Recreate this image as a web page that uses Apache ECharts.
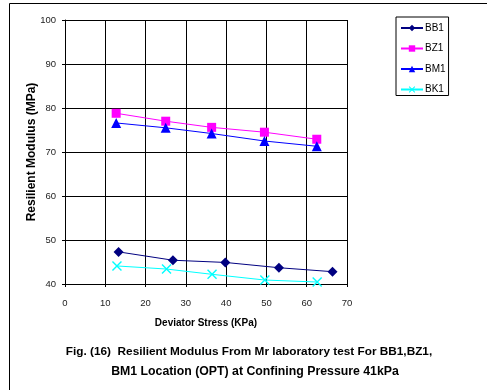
<!DOCTYPE html>
<html><head><meta charset="utf-8">
<script src="https://cdn.jsdelivr.net/npm/echarts@6/dist/echarts.min.js"></script>
<style>html,body{margin:0;padding:0;background:#fff}#c{width:487px;height:390px}</style>
</head><body><div id="c"></div>
<script>
var seriesNames = ['BB1', 'BZ1', 'BM1', 'BK1'];
var bb1X = [13.3, 26.8, 39.8, 53.1, 66.4];
var bb1Y = [47.3, 45.4, 44.9, 43.7, 42.8];
var bz1X = [12.7, 25.0, 36.4, 49.5, 62.5];
var bz1Y = [78.8, 77.0, 75.6, 74.5, 72.9];
var bm1X = [12.7, 25.0, 36.4, 49.5, 62.5];
var bm1Y = [76.6, 75.5, 74.2, 72.5, 71.3];
var bk1X = [12.9, 25.2, 36.5, 49.6, 62.6];
var bk1Y = [44.1, 43.4, 42.2, 40.9, 40.45];
var xTicks = [0, 10, 20, 30, 40, 50, 60, 70];
var yTicks = [40, 50, 60, 70, 80, 90, 100];

function pairs(xs, ys) { return xs.map(function (x, i) { return [x, ys[i]]; }); }
var xMark = 'path://M0,1 L1,0 L5,4 L9,0 L10,1 L6,5 L10,9 L9,10 L5,6 L1,10 L0,9 L4,5 Z';
var font = 'Liberation Sans, Arial, sans-serif';
var capFont1 = 'bold 11.8px "Liberation Sans Narrow", "Arial Narrow", sans-serif';
var capFont2 = 'bold 12.3px "Liberation Sans Narrow", "Arial Narrow", sans-serif';

var chart = echarts.init(document.getElementById('c'));
chart.setOption({
  animation: false,
  graphic: [
    { type: 'rect', shape: { x: 9.5, y: 3.5, width: 520, height: 420 }, style: { fill: 'none', stroke: '#000', lineWidth: 1 }, silent: true },
    { type: 'text', x: 249, y: 352, style: { text: 'Fig. (16)  Resilient Modulus From Mr laboratory test For BB1,BZ1,', font: capFont1, fill: '#000', textAlign: 'center', textVerticalAlign: 'middle' } },
    { type: 'text', x: 255, y: 372, style: { text: 'BM1 Location (OPT) at Confining Pressure 41kPa', font: capFont2, fill: '#000', textAlign: 'center', textVerticalAlign: 'middle' } }
  ],
  grid: { left: 65, right: 140, top: 20, bottom: 106, containLabel: false },
  legend: {
    orient: 'vertical', left: 396, top: 17,
    data: seriesNames,
    borderColor: '#000', borderWidth: 1, padding: [6, 3, 1, 4],
    itemWidth: 22, itemHeight: 8, itemGap: 10.5,
    textStyle: { fontFamily: font, fontSize: 10, color: '#000', padding: [0, 0, 0, -3] }
  },
  xAxis: {
    type: 'value', min: 0, max: 70, interval: 10,
    name: 'Deviator Stress (KPa)', nameLocation: 'middle', nameGap: 34,
    nameTextStyle: { fontFamily: font, fontSize: 10, fontWeight: 'bold', color: '#000' },
    axisLine: { show: true, onZero: false, lineStyle: { color: '#000', width: 1 } },
    axisTick: { show: true, inside: false, length: 3, lineStyle: { color: '#000' } },
    axisLabel: { fontFamily: font, fontSize: 9.5, color: '#222', margin: 14 },
    splitLine: { show: true, lineStyle: { color: '#000', width: 1 } }
  },
  yAxis: {
    type: 'value', min: 40, max: 100, interval: 10,
    name: 'Resilient Modulus (MPa)', nameLocation: 'middle', nameGap: 27, nameRotate: 90,
    nameMoveOverlap: false,
    nameTextStyle: { fontFamily: font, fontSize: 12, fontWeight: 'bold', color: '#000' },
    axisLine: { show: true, lineStyle: { color: '#000', width: 1 } },
    axisTick: { show: true, length: 3, lineStyle: { color: '#000' } },
    axisLabel: { fontFamily: font, fontSize: 9.5, color: '#222', margin: 9 },
    splitLine: { show: true, lineStyle: { color: '#000', width: 1 } }
  },
  series: [
    { name: 'BB1', type: 'line', data: pairs(bb1X, bb1Y), symbol: 'diamond', symbolSize: 10, itemStyle: { color: '#000080' }, lineStyle: { color: '#000080', width: 1 } },
    { name: 'BZ1', type: 'line', data: pairs(bz1X, bz1Y), symbol: 'rect', symbolSize: 9, itemStyle: { color: '#FF00FF' }, lineStyle: { color: '#FF00FF', width: 1 } },
    { name: 'BM1', type: 'line', data: pairs(bm1X, bm1Y), symbol: 'triangle', symbolSize: 10, itemStyle: { color: '#0000FF' }, lineStyle: { color: '#0000FF', width: 1 } },
    { name: 'BK1', type: 'line', data: pairs(bk1X, bk1Y), symbol: xMark, symbolSize: 10, itemStyle: { color: '#00FFFF' }, lineStyle: { color: '#00FFFF', width: 1 } }
  ]
});
</script></body></html>
